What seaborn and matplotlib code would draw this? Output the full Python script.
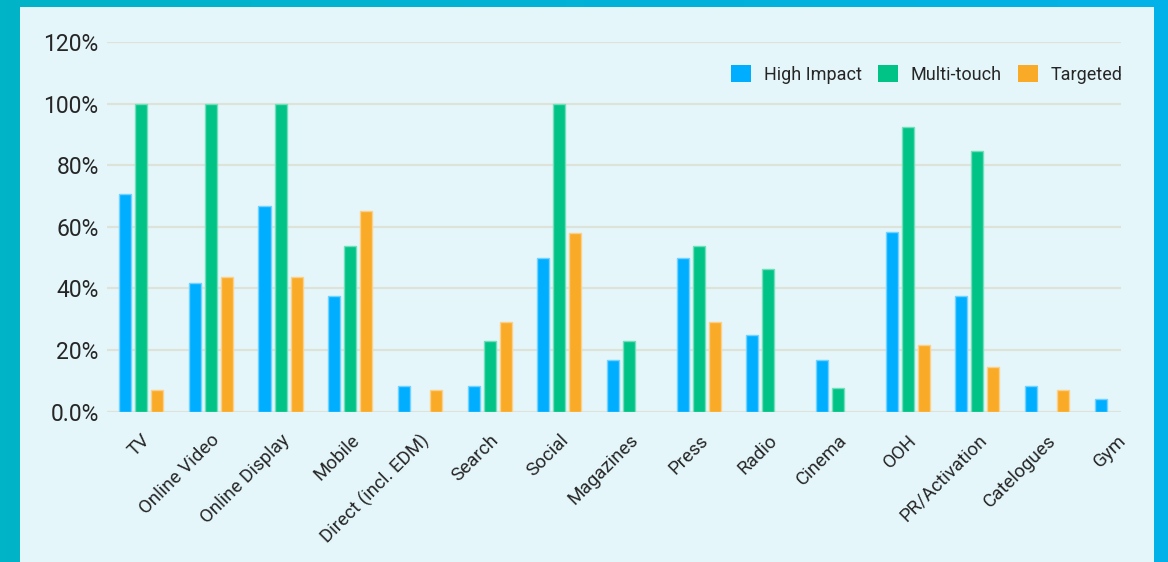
import numpy as np
import pandas as pd
import matplotlib
matplotlib.use("Agg")
import matplotlib.pyplot as plt
import matplotlib.colors as mcolors
from matplotlib.patches import Rectangle
from matplotlib.ticker import FixedLocator
import seaborn as sns

# ---- data -------------------------------------------------------------
channels = ["TV", "Online Video", "Online Display", "Mobile", "Direct (incl. EDM)",
            "Search", "Social", "Magazines", "Press", "Radio", "Cinema", "OOH",
            "PR/Activation", "Catelogues", "Gym"]
high_impact = [70.8, 41.7, 66.7, 37.5, 8.3, 8.3, 50.0, 16.7, 50.0, 25.0, 16.7, 58.3,
               37.5, 8.3, 4.2]
multi_touch = [100.0, 100.0, 100.0, 53.8, np.nan, 23.1, 100.0, 23.1, 53.8, 46.2, 7.7,
               92.3, 84.6, np.nan, np.nan]
targeted = [7.1, 43.6, 43.6, 65.2, 7.1, 29.1, 58.0, np.nan, 29.1, np.nan, np.nan,
            21.8, 14.4, 7.1, np.nan]
series_names = ["High Impact", "Multi-touch", "Targeted"]
series_colors = ["#00AEFF", "#00C385", "#F9AA27"]
y_ticks = [0, 20, 40, 60, 80, 100, 120]
y_tick_labels = ["0.0%", "20%", "40%", "60%", "80%", "100%", "120%"]

df = pd.DataFrame({
    "channel": np.repeat(channels, 3),
    "series": series_names * len(channels),
    "value": np.ravel(np.column_stack([high_impact, multi_touch, targeted])),
})

# ---- figure & frame ---------------------------------------------------
W, H = 1168, 562
fig = plt.figure(figsize=(W / 100, H / 100), dpi=100)
sns.set_style("white")
plt.rcParams["font.family"] = ["Roboto", "DejaVu Sans"]

panel_bg = "#E4F6FA"
bg_ax = fig.add_axes([0, 0, 1, 1], zorder=-10)
grad = np.linspace(0, 1, 256)[None, :]
cmap = mcolors.LinearSegmentedColormap.from_list("frame", ["#00B4C7", "#00B2E8"])
bg_ax.imshow(grad, aspect="auto", cmap=cmap, extent=[0, 1, 0, 1])
bg_ax.add_patch(Rectangle((20 / W, 0), (1154 - 20) / W, (H - 7) / H,
                          facecolor=panel_bg, edgecolor="none"))
bg_ax.set_xlim(0, 1)
bg_ax.set_ylim(0, 1)
bg_ax.axis("off")

ax = fig.add_axes([107 / W, (H - 411.7) / H, (1121 - 107) / W, (411.7 - 42) / H])
ax.set_facecolor("none")

sns.barplot(data=df, x="channel", y="value", hue="series", order=channels,
            hue_order=series_names, palette=series_colors, saturation=1,
            width=0.69, gap=0.25, dodge=True, errorbar=None, ax=ax, zorder=3)

# light outline on each bar
for container, col in zip(ax.containers, series_colors):
    rgb = np.array(mcolors.to_rgb(col))
    edge = rgb + (1 - rgb) * 0.45
    for bar in container:
        bar.set_edgecolor(edge)
        bar.set_linewidth(1.0)

ax.set_xlim(-0.49, 14.06)
ax.set_ylim(0, 120)
ax.yaxis.set_major_locator(FixedLocator(y_ticks))
ax.set_yticklabels(y_tick_labels)
ax.grid(axis="y", color="#DEE3DA", linewidth=1.6, zorder=0)
ax.set_axisbelow(True)
for s in ax.spines.values():
    s.set_visible(False)

ax.tick_params(axis="y", length=0, pad=6, labelsize=16.5, labelcolor="#262626")
ax.tick_params(axis="x", length=0, pad=14, labelsize=13.5, labelcolor="#262626")
for lbl in ax.get_xticklabels():
    lbl.set_rotation(45)
    lbl.set_ha("right")
    lbl.set_rotation_mode("anchor")
ax.set_xlabel("")
ax.set_ylabel("")

leg = ax.legend(loc="upper right", bbox_to_anchor=(1.009, 0.957), ncol=3, frameon=False,
                fontsize=13, handlelength=1.1, handleheight=1.1, handletextpad=0.72,
                columnspacing=0.9, borderaxespad=0.0)
for t in leg.get_texts():
    t.set_color("#262626")
for h in leg.legend_handles:
    h.set_edgecolor("none")

fig.savefig("out.png", dpi=100)
